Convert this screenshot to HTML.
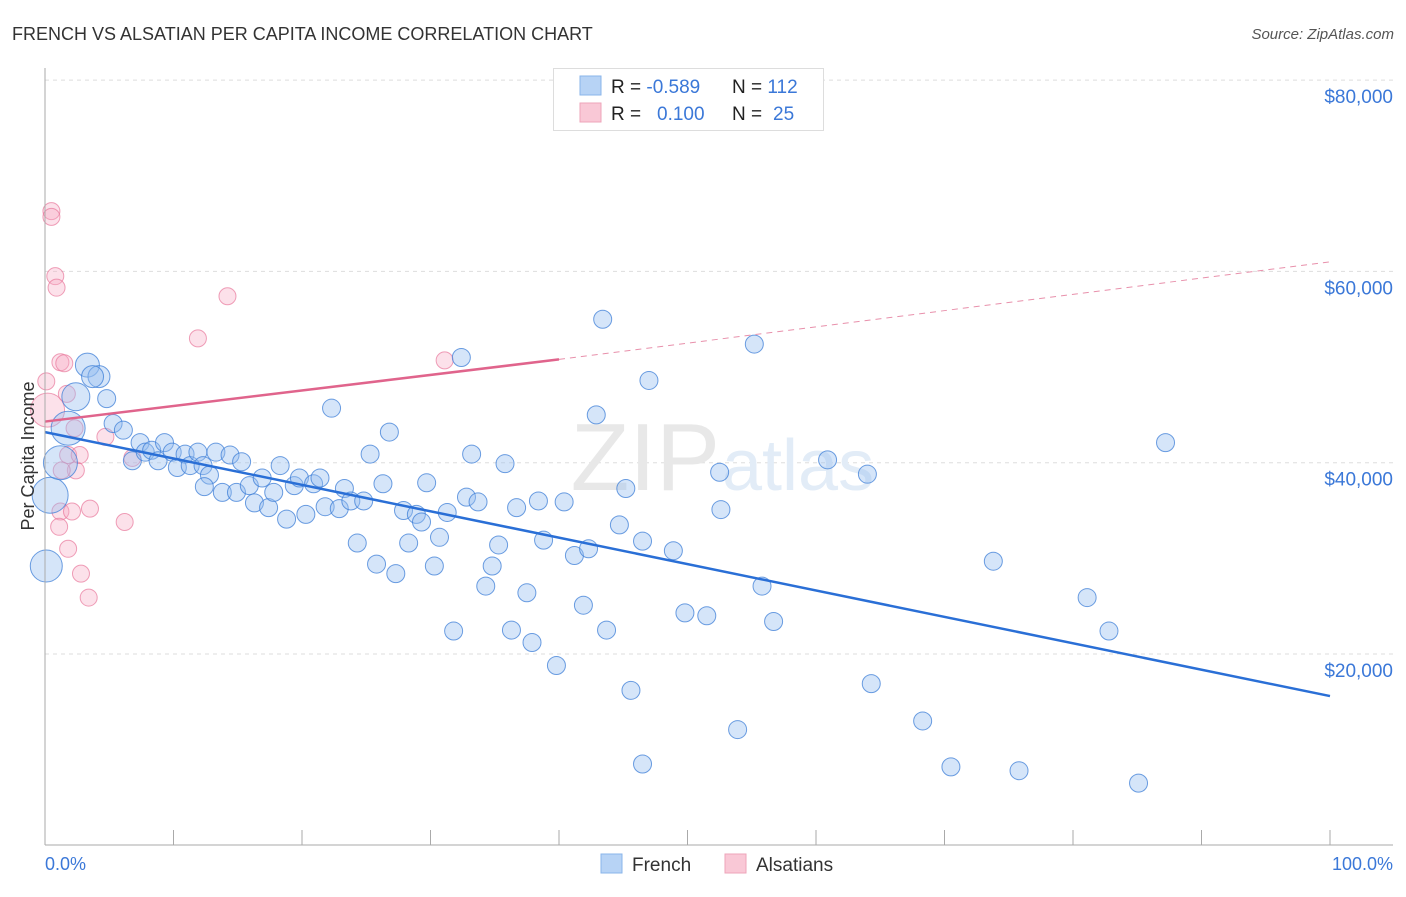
<!DOCTYPE html>
<html><head><meta charset="utf-8"><style>
body{margin:0;background:#fff;font-family:"Liberation Sans",sans-serif}
svg text{font-family:"Liberation Sans",sans-serif}
</style></head><body>
<svg id="c" width="1406" height="892" viewBox="0 0 1406 892">
<text x="12" y="40" font-size="18" fill="#333">FRENCH VS ALSATIAN PER CAPITA INCOME CORRELATION CHART</text>
<text x="1394" y="39" font-size="15" fill="#555" text-anchor="end" font-style="italic">Source: ZipAtlas.com</text>
<g id="grid"></g>
<text x="720" y="490" font-size="96" fill="#e8e8e8" text-anchor="end" font-family="Liberation Serif">ZIP</text>
<text x="722" y="490" font-size="72" fill="#e2ecf7">atlas</text>
<g id="pts"></g>
<g id="trend"></g>
<g id="axes"></g>
<text transform="translate(34,456) rotate(-90)" font-size="18" fill="#333" text-anchor="middle">Per Capita Income</text>
<text x="45" y="870" font-size="18" fill="#3b78d8">0.0%</text>
<text x="1393" y="870" font-size="18" fill="#3b78d8" text-anchor="end">100.0%</text>
<g>
<rect x="553.5" y="68.5" width="270" height="62" fill="#fff" stroke="#ddd"/>
<rect x="580" y="76" width="21" height="19" fill="#b7d3f5" stroke="#8ab4ea"/>
<rect x="580" y="103" width="21" height="19" fill="#f9c8d6" stroke="#eea4ba"/>
<text x="611" y="93" font-size="19" fill="#222">R = <tspan fill="#3b78d8">-0.589</tspan><tspan x="732">N = </tspan><tspan fill="#3b78d8">112</tspan></text>
<text x="611" y="120" font-size="19" fill="#222">R = <tspan x="657" fill="#3b78d8">0.100</tspan><tspan x="732">N = </tspan><tspan x="773" fill="#3b78d8">25</tspan></text>
</g>
<g>
<rect x="601" y="854" width="21" height="19" fill="#b7d3f5" stroke="#8ab4ea"/>
<text x="632" y="871" font-size="19" fill="#333">French</text>
<rect x="725" y="854" width="21" height="19" fill="#f9c8d6" stroke="#eea4ba"/>
<text x="756" y="871" font-size="19" fill="#333">Alsatians</text>
</g>
</svg>
<script>
const yTicks=[20000,40000,60000,80000];
const yTickLabels=["$20,000","$40,000","$60,000","$80,000"];
const frenchX=[0.4,1.2,1.8,2.4,3.3,4.2,3.7,0.1,4.8,5.3,6.1,7.4,6.8,7.8,8.3,8.8,9.3,9.9,10.3,10.9,11.3,11.9,12.3,12.8,13.3,12.4,13.8,14.4,14.9,15.3,15.9,16.3,16.9,17.4,17.8,18.3,18.8,19.4,19.8,20.3,20.9,21.4,21.8,22.3,22.9,23.3,23.8,24.3,24.8,25.3,25.8,26.3,26.8,27.3,27.9,28.3,28.9,29.3,29.7,30.3,30.7,31.3,31.8,32.4,32.8,33.2,33.7,34.3,34.8,35.3,35.8,36.3,36.7,37.5,37.9,38.4,38.8,39.8,40.4,41.2,41.9,42.3,42.9,43.4,43.7,44.7,45.2,45.6,46.5,46.5,47.0,48.9,49.8,51.5,52.5,52.6,53.9,55.2,55.8,56.7,60.9,64.0,64.3,68.3,70.5,73.8,75.8,81.1,82.8,85.1,87.2];
const frenchY=[36600,40000,43600,46900,50200,49000,49000,29200,46700,44100,43400,42100,40200,41100,41300,40200,42100,41100,39500,40900,39700,41100,39700,38700,41100,37500,36900,40800,36900,40100,37600,35800,38400,35300,36900,39700,34100,37600,38400,34600,37800,38400,35400,45700,35200,37300,36000,31600,36000,40900,29400,37800,43200,28400,35000,31600,34600,33800,37900,29200,32200,34800,22400,51000,36400,40900,35900,27100,29200,31400,39900,22500,35300,26400,21200,36000,31900,18800,35900,30300,25100,31000,45000,55000,22500,33500,37300,16200,31800,8500,48600,30800,24300,24000,39000,35100,12100,52400,27100,23400,40300,38800,16900,13000,8200,29700,7800,25900,22400,6500,42100];
const frenchR=[18,17,17,14,12,11,11,16];
const alsX=[0.5,0.5,0.8,0.9,0.1,0.2,1.2,1.5,1.7,1.2,1.1,2.1,1.8,2.3,2.4,1.3,1.8,2.7,2.8,3.4,3.5,4.7,6.2,6.8,11.9,14.2,31.1];
const alsY=[66300,65700,59500,58300,48500,45500,50500,50400,47200,34900,33300,34900,31000,43600,39200,39200,40800,40800,28400,25900,35200,42700,33800,40500,53000,57400,50700];
const alsR=[8.5,8.5,8.5,8.5,8.5,17];
const X0=45,X1=1330,YB=845.3,YS=191.3/20000;
const sx=v=>X0+(X1-X0)*v/100, sy=v=>YB-v*YS;
const NS="http://www.w3.org/2000/svg";
function mk(t,a,p){const e=document.createElementNS(NS,t);for(const k in a)e.setAttribute(k,a[k]);p.appendChild(e);return e;}
const grid=document.getElementById('grid');
yTicks.forEach((v,i)=>{
 const l=mk('line',{x1:45,x2:1393,y1:sy(v),y2:sy(v),stroke:'#ddd','stroke-dasharray':'4,4'},grid);
 
 
 const t=mk('text',{x:1393,y:sy(v)+23,'font-size':19,fill:'#3b78d8','text-anchor':'end'},grid);
 t.textContent=yTickLabels[i];
 
 
});
const pts=document.getElementById('pts');
alsX.forEach((x,i)=>{
 const c=mk('circle',{cx:sx(x),cy:sy(alsY[i]),r:alsR[i]||8.5,fill:'rgba(246,170,195,0.35)',stroke:'rgba(232,120,155,0.7)','stroke-width':1},pts);
 
 
});
frenchX.forEach((x,i)=>{
 const c=mk('circle',{cx:sx(x),cy:sy(frenchY[i]),r:frenchR[i]||9,fill:'rgba(150,190,240,0.4)',stroke:'rgba(60,125,215,0.75)','stroke-width':1},pts);
 
 
});
const tr=document.getElementById('trend');
const bl=mk('line',{x1:sx(0),y1:sy(43200),x2:sx(100),y2:sy(15600),stroke:'#2a6fd6','stroke-width':2.5},tr);


const pl=mk('line',{x1:sx(0),y1:sy(44300),x2:sx(40),y2:sy(50800),stroke:'#e0648c','stroke-width':2.5},tr);


const pd=mk('line',{x1:sx(40),y1:sy(50800),x2:sx(100),y2:sy(61000),stroke:'#e890ab','stroke-width':1,'stroke-dasharray':'6,5'},tr);


const ax=document.getElementById('axes');
mk('line',{x1:45,x2:45,y1:68,y2:845,stroke:'#aaa'},ax);
mk('line',{x1:45,x2:1393,y1:845,y2:845,stroke:'#aaa'},ax);
for(let i=0;i<=10;i++){const t=mk('line',{x1:sx(i*10),x2:sx(i*10),y1:830,y2:845,stroke:'#aaa'},ax);
 
 }
</script>
</body></html>
